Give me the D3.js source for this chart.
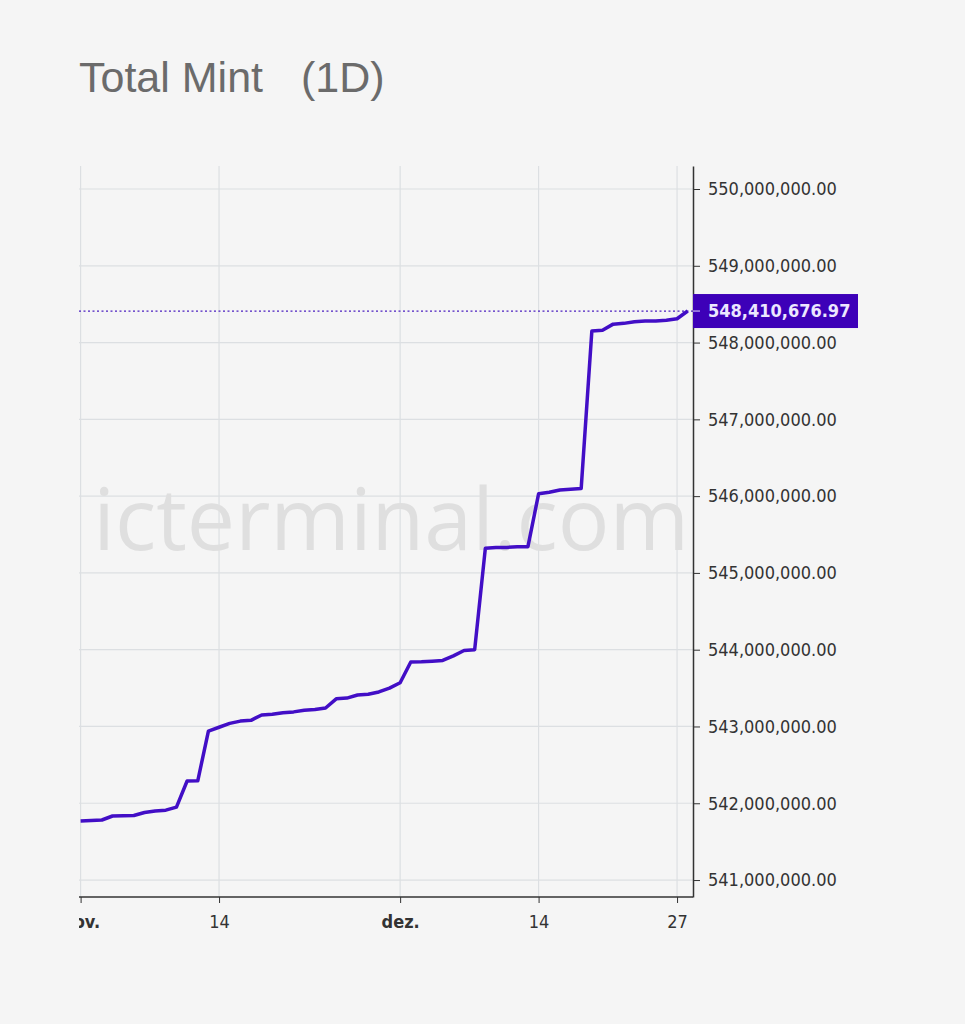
<!DOCTYPE html>
<html>
<head>
<meta charset="utf-8">
<script src="https://cdn.jsdelivr.net/npm/d3@7"></script>
<style>
  body { margin: 0; background: #f5f5f5; }
  svg { display: block; }
</style>
</head>
<body>
<div id="chart-area"></div>
<script>
// daily Total Mint, in millions, from 1 Nov to 28 Dec
var firstDay = "2022-11-01";
var mintValues = [
  541.769, 541.775, 541.782, 541.834, 541.836, 541.840, 541.880, 541.900, 541.910, 541.950,
  542.290, 542.292, 542.940, 542.990, 543.040, 543.070, 543.080, 543.150, 543.160, 543.180,
  543.190, 543.210, 543.220, 543.240, 543.360, 543.370, 543.410, 543.420, 543.450, 543.500,
  543.570, 543.840, 543.842, 543.850, 543.860, 543.920, 543.990, 544.000, 545.320, 545.330,
  545.332, 545.340, 545.342, 546.030, 546.050, 546.080, 546.090, 546.100, 548.150, 548.160,
  548.240, 548.250, 548.270, 548.280, 548.282, 548.290, 548.310, 548.41067697
];
var xTickDays = ["2022-11-01", "2022-11-14", "2022-12-01", "2022-12-14", "2022-12-27"];
var monthNames = ["jan.", "fev.", "mar.", "abr.", "mai.", "jun.", "jul.", "ago.", "set.", "out.", "nov.", "dez."];
var yTicks = [541, 542, 543, 544, 545, 546, 547, 548, 549, 550];

var parseDay = d3.utcParse("%Y-%m-%d");
var start = parseDay(firstDay);
var data = mintValues.map(function (v, i) {
    return { date: d3.utcDay.offset(start, i), value: Math.round(v * 1e8) };
});
var last = data[data.length - 1];
var fmt = d3.format(",.2f");

var svg = d3.select("#chart-area")
    .append("svg")
    .attr("width", 965)
    .attr("height", 1024);

// title
svg.append("text")
    .attr("x", 79).attr("y", 92)
    .attr("font-family", "Liberation Sans, Arial, sans-serif")
    .attr("font-size", 43)
    .attr("fill", "#6b6b6b")
    .text("Total Mint");
svg.append("text")
    .attr("x", 301).attr("y", 92)
    .attr("font-family", "Liberation Sans, Arial, sans-serif")
    .attr("font-size", 43)
    .attr("fill", "#6b6b6b")
    .text("(1D)");

// plot box
var plotLeft = 79, plotRight = 693, plotTop = 166, plotBottom = 897;

var x = d3.scaleUtc()
    .domain([start, last.date])
    .range([80.6, 687.7]);

// values kept in cents
var y = d3.scaleLinear()
    .domain([540.779e8, 550.2996e8])
    .range([plotBottom, plotTop]);

svg.append("clipPath").attr("id", "clip")
    .append("rect")
    .attr("x", plotLeft).attr("y", 0)
    .attr("width", 965 - plotLeft).attr("height", 1024);

var g = svg.append("g").attr("clip-path", "url(#clip)");

var xTicks = xTickDays.map(parseDay);

// grid
g.append("g").selectAll("line")
    .data(xTicks)
    .enter().append("line")
    .attr("x1", function (d) { return x(d); })
    .attr("x2", function (d) { return x(d); })
    .attr("y1", plotTop).attr("y2", plotBottom)
    .attr("stroke", "#dcdfe2").attr("stroke-width", 1.2);
g.append("g").selectAll("line")
    .data(yTicks)
    .enter().append("line")
    .attr("x1", plotLeft).attr("x2", plotRight)
    .attr("y1", function (d) { return y(d * 1e8); })
    .attr("y2", function (d) { return y(d * 1e8); })
    .attr("stroke", "#dcdfe2").attr("stroke-width", 1.2);

// watermark
g.append("text")
    .attr("x", 689).attr("y", 550)
    .attr("text-anchor", "end")
    .attr("font-family", "Open Sans, sans-serif")
    .attr("font-size", 86)
    .attr("fill", "#dfdfdf")
    .text("icterminal.com");

// last value dotted line
g.append("line")
    .attr("x1", plotLeft).attr("x2", plotRight)
    .attr("y1", y(last.value)).attr("y2", y(last.value))
    .attr("stroke", "#4b1fc0")
    .attr("stroke-width", 1.3)
    .attr("stroke-dasharray", "2,2.5");

// the line
var line = d3.line()
    .x(function (d) { return x(d.date); })
    .y(function (d) { return y(d.value); });

g.append("path")
    .datum(data)
    .attr("d", line)
    .attr("fill", "none")
    .attr("stroke", "#420ec6")
    .attr("stroke-width", 3.5)
    .attr("stroke-linejoin", "round");

// x axis
var xAxis = d3.axisBottom(x)
    .tickValues(xTicks)
    .tickSize(6)
    .tickSizeOuter(0)
    .tickFormat(function (d) {
        return d.getUTCDate() === 1 ? monthNames[d.getUTCMonth()] : d3.utcFormat("%-d")(d);
    });

var gx = g.append("g")
    .attr("transform", "translate(0," + plotBottom + ")")
    .call(xAxis);
gx.select(".domain").remove();
gx.selectAll(".tick line").attr("stroke", "#333");
gx.selectAll(".tick text")
    .attr("y", 18)
    .attr("font-family", "DejaVu Sans Condensed, DejaVu Sans, sans-serif")
    .attr("font-size", 18)
    .attr("fill", "#333")
    .attr("font-weight", function (d) { return d.getUTCDate() === 1 ? "bold" : "normal"; });

g.append("line")
    .attr("x1", plotLeft).attr("x2", plotRight)
    .attr("y1", plotBottom).attr("y2", plotBottom)
    .attr("stroke", "#333").attr("stroke-width", 1.5);

// y axis on the right
var yAxis = d3.axisRight(y)
    .tickValues(yTicks.map(function (v) { return v * 1e8; }))
    .tickSize(7)
    .tickSizeOuter(0)
    .tickFormat(function (d) { return fmt(d / 100); });

var gy = svg.append("g")
    .attr("transform", "translate(" + plotRight + ",0)")
    .call(yAxis);
gy.select(".domain").attr("stroke", "#333").attr("stroke-width", 1.5);
gy.selectAll(".tick line").attr("stroke", "#333");
gy.selectAll(".tick text")
    .attr("x", 15)
    .attr("font-family", "DejaVu Sans Condensed, DejaVu Sans, sans-serif")
    .attr("font-size", 18)
    .attr("fill", "#333");

// current value label
var lab = svg.append("g")
    .attr("transform", "translate(" + plotRight + "," + y(last.value) + ")");
lab.append("rect")
    .attr("x", 0).attr("y", -17)
    .attr("width", 165).attr("height", 34)
    .attr("fill", "#3d00b8");
lab.append("line")
    .attr("x1", 0).attr("x2", 7)
    .attr("stroke", "#e8e2ff").attr("stroke-width", 1);
lab.append("text")
    .attr("x", 15).attr("dy", "0.35em")
    .attr("font-family", "DejaVu Sans Condensed, DejaVu Sans, sans-serif")
    .attr("font-size", 18)
    .attr("font-weight", "bold")
    .attr("fill", "#ece6ff")
    .text(fmt(last.value / 100));
</script>
</body>
</html>
